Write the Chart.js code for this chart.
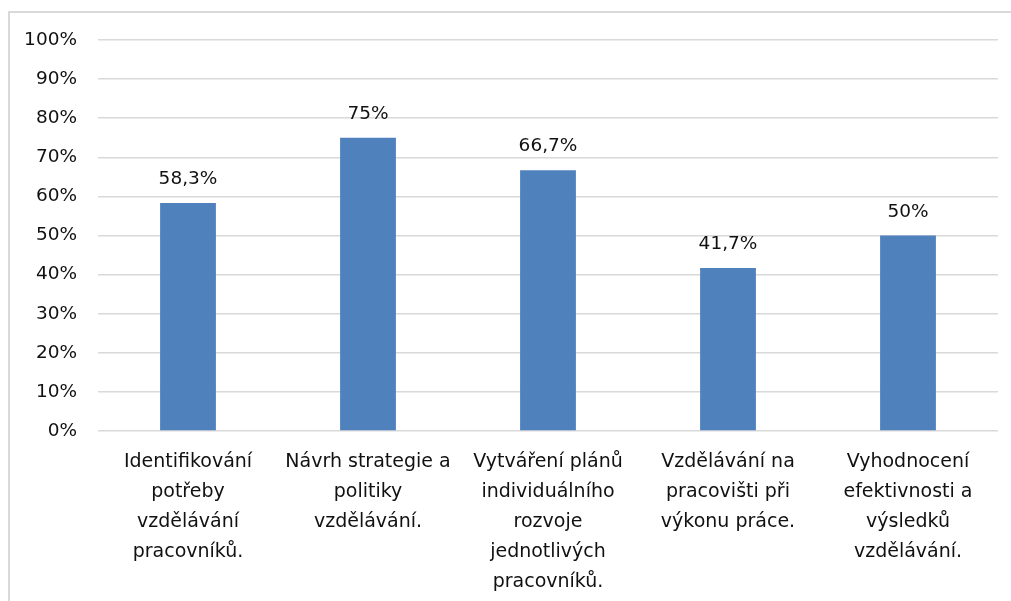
<!DOCTYPE html>
<html>
<head>
<meta charset="utf-8">
<script src="https://cdn.jsdelivr.net/npm/chart.js@4"></script>
<style>
  html, body { margin: 0; padding: 0; background: #fff; overflow: hidden; }
  #graf { display: block; }
</style>
</head>
<body>
<canvas id="graf" width="1011" height="601"></canvas>
<script>
// data z grafu
const kategorie = [
  ["Identifikování", "potřeby", "vzdělávání", "pracovníků."],
  ["Návrh strategie a", "politiky", "vzdělávání."],
  ["Vytváření plánů", "individuálního", "rozvoje", "jednotlivých", "pracovníků."],
  ["Vzdělávání na", "pracovišti při", "výkonu práce."],
  ["Vyhodnocení", "efektivnosti a", "výsledků", "vzdělávání."]
];
const hodnoty = [58.3, 75, 66.7, 41.7, 50];
const popisky = ["58,3%", "75%", "66,7%", "41,7%", "50%"];

const pismo = "'DejaVu Sans', sans-serif";

// ramecek kolem grafu (jen vlevo a nahore, zbytek je orizly)
const ramecekPlugin = {
  id: 'ramecek',
  beforeDraw(chart) {
    const ctx = chart.ctx;
    ctx.save();
    ctx.strokeStyle = '#d9d9d9';
    ctx.lineWidth = 2;
    ctx.beginPath();
    ctx.moveTo(9, chart.height);
    ctx.lineTo(9, 12);
    ctx.lineTo(chart.width, 12);
    ctx.stroke();
    ctx.restore();
  }
};

// popisky nad sloupci (Excel styl)
const popiskyPlugin = {
  id: 'popiskyNadSloupci',
  afterDatasetsDraw(chart) {
    const ctx = chart.ctx;
    const meta = chart.getDatasetMeta(0);
    ctx.save();
    ctx.font = "18.5px " + pismo;
    ctx.fillStyle = '#111';
    ctx.textAlign = 'center';
    ctx.textBaseline = 'alphabetic';
    meta.data.forEach((bar, i) => {
      ctx.fillText(popisky[i], bar.x, bar.y - 19);
    });
    ctx.restore();
  }
};

new Chart(document.getElementById('graf'), {
  type: 'bar',
  data: {
    labels: kategorie,
    datasets: [{
      data: hodnoty,
      backgroundColor: '#4f81bd',
      borderWidth: 0,
      barPercentage: 0.31,
      categoryPercentage: 1
    }]
  },
  options: {
    responsive: false,
    animation: false,
    layout: { padding: { left: 0, right: 13, top: 40, bottom: 0 } },
    plugins: { legend: { display: false }, tooltip: { enabled: false } },
    scales: {
      x: {
        grid: { display: false, drawTicks: false },
        border: { display: false },
        ticks: {
          color: '#111',
          font: { family: pismo, size: 19, lineHeight: '30px' },
          padding: 16,
          maxRotation: 0,
          autoSkip: false
        },
        afterFit(scale) { scale.height = 170; }
      },
      y: {
        min: 0,
        max: 100,
        grid: { color: '#d9d9d9', lineWidth: 1.5, drawTicks: false },
        border: { display: false },
        ticks: {
          stepSize: 10,
          color: '#111',
          font: { family: pismo, size: 18.5 },
          padding: 21,
          callback: (v) => v + '%'
        },
        afterFit(scale) { scale.width = 98; }
      }
    }
  },
  plugins: [ramecekPlugin, popiskyPlugin]
});
</script>
</body>
</html>
